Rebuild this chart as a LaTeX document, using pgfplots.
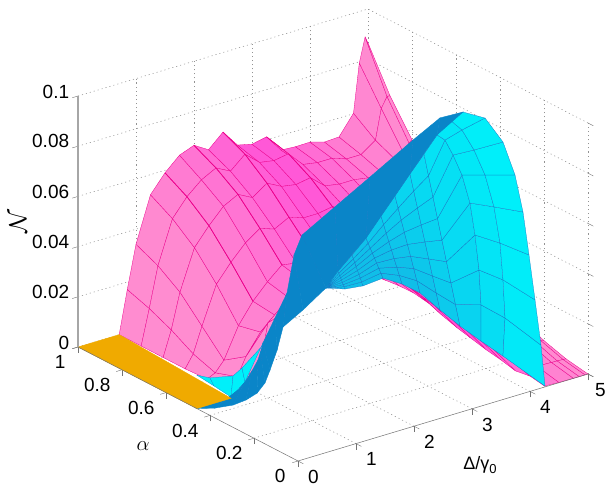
\documentclass[border=0pt]{standalone}
\usepackage{pgfplots}
\pgfplotsset{compat=1.18}
\usepackage{fontspec}
\setmainfont{Liberation Sans}
\pgfplotsset{
 colormap={pinkmap}{rgb255=(255,85,216) rgb255=(255,140,208)},
 colormap={cyanmap}{rgb255=(16,190,232) rgb255=(0,240,250)},
 colormap={bluemap}{rgb255=(10,133,200) rgb255=(10,133,200)},
 colormap={orangemap}{rgb255=(240,170,0) rgb255=(240,170,0)},
 gridst/.style={no marks,gray!85,line width=0.55bp,dash pattern=on 1.1bp off 3bp,forget plot},
}
\newcommand\gl[1]{\addplot3[gridst] coordinates {#1};}
\definecolor{gridc}{gray}{0.45}
\begin{document}
\begin{tikzpicture}
\useasboundingbox (0,0) rectangle (606bp,486bp);
\begin{axis}[
 at={(298bp,25bp)}, anchor=origin,
 x={(58bp,17.4bp)}, y={(-220bp,114bp)}, z={(0bp,2510bp)},
 xmin=0,xmax=5,ymin=0,ymax=1,zmin=0,zmax=0.1,
 xtick={0,1,2,3,4,5}, ytick={0,0.2,0.4,0.6,0.8,1}, ztick={0,0.02,0.04,0.06,0.08,0.1},
 xticklabels={0,1,2,3,4,5\hspace*{6bp}}, yticklabels={\hspace*{14bp}0,0.2,0.4,0.6,0.8,\hspace*{14bp}1}, zticklabels={0,0.02,0.04,0.06,0.08,0.1},
 axis line style={draw=none}, tick pos=left,
 tick align=outside, tick style={gridc,line width=0.4bp}, major tick length=6bp,
 tick label style={font=\fontsize{19bp}{20bp}\selectfont},
 xticklabel style={anchor=center,xshift=10bp,yshift=-13bp},
 yticklabel style={anchor=center,xshift=-19bp,yshift=-13.5bp},
 clip=false, point meta min=0, point meta max=2,
]
\gl{(1,1,0)(1,1,.1)}\gl{(2,1,0)(2,1,.1)}\gl{(3,1,0)(3,1,.1)}\gl{(4,1,0)(4,1,.1)}\gl{(5,1,0)(5,1,.1)}
\gl{(0,1,.02)(5,1,.02)}\gl{(0,1,.04)(5,1,.04)}\gl{(0,1,.06)(5,1,.06)}\gl{(0,1,.08)(5,1,.08)}\gl{(0,1,.1)(5,1,.1)}
\gl{(5,0,0)(5,0,.1)}\gl{(5,.2,0)(5,.2,.1)}\gl{(5,.4,0)(5,.4,.1)}\gl{(5,.6,0)(5,.6,.1)}\gl{(5,.8,0)(5,.8,.1)}
\gl{(5,0,.02)(5,1,.02)}\gl{(5,0,.04)(5,1,.04)}\gl{(5,0,.06)(5,1,.06)}\gl{(5,0,.08)(5,1,.08)}\gl{(5,0,.1)(5,1,.1)}
\gl{(1,0,0)(1,1,0)}\gl{(2,0,0)(2,1,0)}\gl{(3,0,0)(3,1,0)}\gl{(4,0,0)(4,1,0)}\gl{(5,0,0)(5,1,0)}
\gl{(0,.2,0)(5,.2,0)}\gl{(0,.4,0)(5,.4,0)}\gl{(0,.6,0)(5,.6,0)}\gl{(0,.8,0)(5,.8,0)}\gl{(0,1,0)(5,1,0)}
\addplot3[surf,shader=faceted,colormap name=pinkmap,point meta={abs(\thisrowno{0}-3)},faceted color=magenta,line width=0.3bp,mesh/rows=11,mesh/cols=21,z buffer=none] table[row sep=\\,header=false]{
.71 1 0\\.85 1 .017\\1 1 .034\\1.25 1 .052\\1.5 1 .059\\1.75 1 .0643\\2 1 .0665\\2.25 1 .063\\2.5 1 .0683\\2.75 1 .0614\\3 1 .06\\3.25 1 .0612\\3.5 1 .0542\\3.75 1 .0538\\4 1 .0539\\4.25 1 .0522\\4.5 1 .0525\\4.75 1 .0602\\4.85 1 .0795\\4.95 1 .0892\\5 1 .0865\\
.71 .9 0\\.85 .9 .014\\1 .9 .03\\1.25 .9 .047\\1.5 .9 .054\\1.75 .9 .059\\2 .9 .062\\2.25 .9 .059\\2.5 .9 .064\\2.75 .9 .059\\3 .9 .058\\3.25 .9 .059\\3.5 .9 .053\\3.75 .9 .052\\4 .9 .052\\4.25 .9 .05\\4.5 .9 .05\\4.75 .9 .054\\4.85 .9 .066\\4.95 .9 .07\\5 .9 .07\\
.71 .8 0\\.85 .8 .01\\1 .8 .024\\1.25 .8 .04\\1.5 .8 .047\\1.75 .8 .053\\2 .8 .056\\2.25 .8 .053\\2.5 .8 .057\\2.75 .8 .054\\3 .8 .053\\3.25 .8 .054\\3.5 .8 .049\\3.75 .8 .048\\4 .8 .048\\4.25 .8 .047\\4.5 .8 .047\\4.75 .8 .05\\4.85 .8 .053\\4.95 .8 .056\\5 .8 .057\\
.71 .7 0\\.85 .7 .005\\1 .7 .015\\1.25 .7 .03\\1.5 .7 .037\\1.75 .7 .043\\2 .7 .047\\2.25 .7 .045\\2.5 .7 .048\\2.75 .7 .046\\3 .7 .046\\3.25 .7 .047\\3.5 .7 .044\\3.75 .7 .043\\4 .7 .043\\4.25 .7 .043\\4.5 .7 .043\\4.75 .7 .044\\4.85 .7 .045\\4.95 .7 .045\\5 .7 .045\\
.71 .6 .0005\\.85 .6 .002\\1 .6 .006\\1.25 .6 .018\\1.5 .6 .026\\1.75 .6 .032\\2 .6 .037\\2.25 .6 .036\\2.5 .6 .039\\2.75 .6 .038\\3 .6 .039\\3.25 .6 .04\\3.5 .6 .039\\3.75 .6 .038\\4 .6 .038\\4.25 .6 .038\\4.5 .6 .038\\4.75 .6 .037\\4.85 .6 .036\\4.95 .6 .035\\5 .6 .034\\
.71 .5 .002\\.85 .5 .005\\1 .5 .012\\1.25 .5 .02\\1.5 .5 .025\\1.75 .5 .03\\2 .5 .035\\2.25 .5 .035\\2.5 .5 .037\\2.75 .5 .037\\3 .5 .038\\3.25 .5 .038\\3.5 .5 .038\\3.75 .5 .037\\4 .5 .036\\4.25 .5 .035\\4.5 .5 .033\\4.75 .5 .029\\4.85 .5 .027\\4.95 .5 .026\\5 .5 .025\\
.71 .4 .006\\.85 .4 .012\\1 .4 .03\\1.25 .4 .035\\1.5 .4 .04\\1.75 .4 .042\\2 .4 .044\\2.25 .4 .044\\2.5 .4 .044\\2.75 .4 .043\\3 .4 .042\\3.25 .4 .04\\3.5 .4 .038\\3.75 .4 .035\\4 .4 .032\\4.25 .4 .028\\4.5 .4 .024\\4.75 .4 .019\\4.85 .4 .018\\4.95 .4 .016\\5 .4 .016\\
.71 .3 .03\\.85 .3 .035\\1 .3 .04\\1.25 .3 .048\\1.5 .3 .05\\1.75 .3 .05\\2 .3 .05\\2.25 .3 .05\\2.5 .3 .048\\2.75 .3 .046\\3 .3 .044\\3.25 .3 .04\\3.5 .3 .035\\3.75 .3 .03\\4 .3 .025\\4.25 .3 .02\\4.5 .3 .014\\4.75 .3 .01\\4.85 .3 .009\\4.95 .3 .008\\5 .3 .008\\
.71 .2 .05\\.85 .2 .055\\1 .2 .06\\1.25 .2 .062\\1.5 .2 .06\\1.75 .2 .058\\2 .2 .056\\2.25 .2 .052\\2.5 .2 .048\\2.75 .2 .043\\3 .2 .038\\3.25 .2 .033\\3.5 .2 .027\\3.75 .2 .021\\4 .2 .015\\4.25 .2 .01\\4.5 .2 .006\\4.75 .2 .005\\4.85 .2 .0048\\4.95 .2 .0045\\5 .2 .0042\\
.71 .1 .07\\.85 .1 .072\\1 .1 .07\\1.25 .1 .068\\1.5 .1 .063\\1.75 .1 .06\\2 .1 .055\\2.25 .1 .05\\2.5 .1 .044\\2.75 .1 .038\\3 .1 .032\\3.25 .1 .026\\3.5 .1 .02\\3.75 .1 .014\\4 .1 .009\\4.25 .1 .005\\4.5 .1 .002\\4.75 .1 .0018\\4.85 .1 .0017\\4.95 .1 .0016\\5 .1 .0015\\
.71 0 .075\\.85 0 .075\\1 0 .08\\1.25 0 .0655\\1.5 0 .0617\\1.75 0 .0576\\2 0 .053\\2.25 0 .0473\\2.5 0 .0404\\2.75 0 .0339\\3 0 .0278\\3.25 0 .0217\\3.5 0 .016\\3.75 0 .0099\\4 0 .0061\\4.25 0 .0004\\4.5 0 .0001\\4.75 0 0\\4.85 0 0\\4.95 0 0\\5 0 0\\
};
\addplot3[no marks,magenta,line width=0.7bp] coordinates {(1.5,1,.059)(1.5,.9,.054)(1.5,.8,.047)(1.5,.7,.037)(1.5,.6,.026)};
\addplot3[no marks,magenta,line width=0.7bp] coordinates {(2,1,.0665)(2,.9,.062)(2,.8,.056)(2,.7,.047)(2,.6,.037)};
\addplot3[no marks,magenta,line width=0.7bp] coordinates {(2.5,1,.0683)(2.5,.9,.064)(2.5,.8,.057)(2.5,.7,.048)(2.5,.6,.039)};
\addplot3[no marks,magenta,line width=0.7bp] coordinates {(3.25,1,.0612)(3.25,.9,.059)(3.25,.8,.054)(3.25,.7,.047)(3.25,.6,.04)};
\addplot3[surf,shader=faceted,colormap name=cyanmap,point meta={2},faceted color=cyan!70!blue,line width=0.25bp,mesh/rows=2,mesh/cols=5,z buffer=none] table[row sep=\\,header=false]{
.705 .645 0\\.759 .6 .0006\\.966 .55 .0022\\.931 .5 .0079\\.914 .4 .0217\\
.705 .645 0\\.638 .55 .0005\\.59 .46 .0005\\.679 .42 .0077\\.762 .36 .0254\\
};
\addplot3[surf,shader=faceted,colormap name=cyanmap,point meta={min(2,max(0,\thisrowno{0}-2.2))},faceted color=cyan!55!blue,line width=0.25bp,mesh/rows=9,mesh/cols=11,z buffer=none] table[row sep=\\,header=false]{
.48 0 .0656\\.81 0 .0629\\1.121 0 .062\\1.466 0 .0627\\1.793 0 .0581\\2.103 0 .0524\\2.448 0 .0432\\2.793 0 .0344\\3.155 0 .0259\\3.534 0 .0173\\4.259 0 .0003\\
.654 .045 .0623\\.966 .045 .0607\\1.268 .045 .0605\\1.6 .045 .0617\\1.918 .045 .0586\\2.22 .045 .0544\\2.554 .045 .0472\\2.886 .045 .0403\\3.326 .045 .0371\\3.74 .045 .029\\4.36 .045 .0139\\
.824 .09 .0591\\1.121 .09 .0584\\1.415 .09 .059\\1.734 .09 .0607\\2.044 .09 .059\\2.337 .09 .0564\\2.66 .09 .0512\\2.979 .09 .0462\\3.462 .09 .048\\3.876 .09 .0412\\4.428 .09 .0294\\
.995 .135 .0559\\1.277 .135 .0562\\1.562 .135 .0574\\1.868 .135 .0598\\2.169 .135 .0595\\2.454 .135 .0584\\2.766 .135 .0552\\3.072 .135 .052\\3.564 .135 .0592\\3.995 .135 .053\\4.495 .135 .0448\\
1.165 .18 .0527\\1.432 .18 .054\\1.709 .18 .0559\\2.002 .18 .0588\\2.295 .18 .06\\2.57 .18 .0603\\2.872 .18 .0592\\3.165 .18 .0579\\3.648 .18 .0693\\4.062 .18 .0649\\4.562 .18 .0594\\
1.336 .225 .0494\\1.588 .225 .0518\\1.856 .225 .0544\\2.136 .225 .0578\\2.42 .225 .0604\\2.687 .225 .0623\\2.978 .225 .0632\\3.259 .225 .0638\\3.681 .225 .0782\\4.078 .225 .0755\\4.595 .225 .0719\\
1.507 .27 .0462\\1.744 .27 .0495\\2.003 .27 .0529\\2.27 .27 .0568\\2.545 .27 .0609\\2.804 .27 .0643\\3.084 .27 .0672\\3.352 .27 .0697\\3.697 .27 .084\\4.059 .27 .0835\\4.559 .27 .0832\\
1.677 .315 .043\\1.899 .315 .0473\\2.15 .315 .0514\\2.404 .315 .0558\\2.671 .315 .0614\\2.921 .315 .0662\\3.19 .315 .0712\\3.445 .315 .0755\\3.729 .315 .0877\\4.022 .315 .0897\\4.419 .315 .0917\\
1.848 .36 .0398\\2.055 .36 .0451\\2.297 .36 .0498\\2.538 .36 .0549\\2.796 .36 .0619\\3.038 .36 .0682\\3.296 .36 .0752\\3.538 .36 .0814\\3.762 .36 .0875\\3.986 .36 .0919\\4.21 .36 .0935\\
};
\addplot3[surf,shader=flat,colormap name=bluemap,mesh/rows=2,mesh/cols=16,z buffer=none] table[row sep=\\,header=false]{
0 .46 0\\0 .378 .0039\\0 .295 .0089\\0 .236 .0136\\0 .186 .0186\\0 .15 .0243\\0 .127 .0305\\0 .095 .0399\\0 .068 .0503\\.086 0 .0596\\.48 0 .0656\\2.055 .36 .0451\\2.538 .36 .0549\\3.296 .36 .0752\\3.762 .36 .0875\\4.21 .36 .0935\\
.59 .46 .0005\\.634 .44 .0039\\.679 .42 .0077\\.724 .4 .0127\\.752 .38 .0178\\.757 .37 .0214\\.762 .36 .0254\\.969 .36 .0339\\1.176 .36 .0424\\1.297 .36 .0567\\1.434 .36 .0637\\2.003 .36 .071\\2.607 .36 .0787\\3.348 .36 .0883\\3.814 .36 .0939\\4.21 .36 .0935\\
};
\addplot3[surf,shader=flat,colormap name=orangemap,mesh/rows=2,mesh/cols=2,z buffer=none] table[row sep=\\,header=false]{
0 1 0\\.71 1 0\\
0 .46 0\\.59 .46 0\\
};
\addplot3[gridc,line width=0.5bp,no marks] coordinates {(0,1,0)(0,0,0)(5,0,0)};
\addplot3[gray!70,line width=1.2bp,no marks] coordinates {(0,1,0)(0,1,0.1)};
\end{axis}
\node at (480bp,21bp) {\fontsize{18bp}{19bp}\selectfont Δ/γ\raisebox{-0.25em}{\fontsize{13bp}{14bp}\selectfont 0}};
\node at (143bp,40bp) {\fontsize{20bp}{20bp}\selectfont $\alpha$};
\node[rotate=90] at (18bp,264bp) {\fontsize{25bp}{26bp}\selectfont $\mathcal{N}$};
\end{tikzpicture}
\end{document}
